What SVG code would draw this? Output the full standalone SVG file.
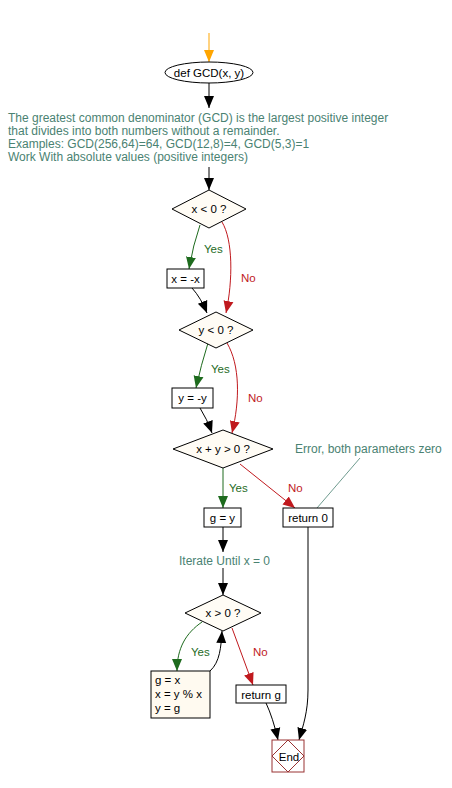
<svg xmlns="http://www.w3.org/2000/svg" width="452" height="788" viewBox="0 0 452 788">
<style>
text{font-family:"Liberation Sans",Arial,sans-serif;font-size:11.5px;fill:#000}
.c{text-anchor:middle}
.note{fill:#4A8272;font-size:12px}
.yes{fill:#1E6B1E}
.no{fill:#C0191E}
.box{fill:#fff;stroke:#000;stroke-width:1}
.dia{fill:#FFFCF5;stroke:#000;stroke-width:1}
.k{fill:none;stroke:#000;stroke-width:1}
.g{fill:none;stroke:#1E6B1E;stroke-width:1}
.r{fill:none;stroke:#C0191E;stroke-width:1}
.o{fill:none;stroke:#FFA500;stroke-width:1}
</style>
<defs>
<marker id="ak" markerUnits="userSpaceOnUse" markerWidth="12" markerHeight="12" viewBox="0 0 12 10" refX="12" refY="5" orient="auto"><path d="M0,0 L12,5 L0,10 z" fill="#000"/></marker>
<marker id="ag" markerUnits="userSpaceOnUse" markerWidth="12" markerHeight="12" viewBox="0 0 12 10" refX="12" refY="5" orient="auto"><path d="M0,0 L12,5 L0,10 z" fill="#1E6B1E"/></marker>
<marker id="ar" markerUnits="userSpaceOnUse" markerWidth="12" markerHeight="12" viewBox="0 0 12 10" refX="12" refY="5" orient="auto"><path d="M0,0 L12,5 L0,10 z" fill="#C0191E"/></marker>
<marker id="ao" markerUnits="userSpaceOnUse" markerWidth="12" markerHeight="12" viewBox="0 0 12 10" refX="12" refY="5" orient="auto"><path d="M0,0 L12,5 L0,10 z" fill="#FFA500"/></marker>
</defs>
<rect width="452" height="788" fill="#fff"/>
<g id="connectors">
<path class="o" d="M209,33 L209,62" marker-end="url(#ao)"/>
<path class="k" d="M209,83 L209,108" marker-end="url(#ak)"/>
<path class="k" d="M209,167 L209,190" marker-end="url(#ak)"/>
<path class="g" d="M200,225 Q193,245 189,269" marker-end="url(#ag)"/>
<path class="r" d="M222,222 C233,240 233,280 226,313" marker-end="url(#ar)"/>
<path class="k" d="M192,288 Q201,298 207,313" marker-end="url(#ak)"/>
<path class="g" d="M208,343 Q201,365 196,388" marker-end="url(#ag)"/>
<path class="r" d="M227,343 C240,365 240,400 232,433" marker-end="url(#ar)"/>
<path class="k" d="M200,408 Q207,419 212,433" marker-end="url(#ak)"/>
<path class="g" d="M223,468 L223,508" marker-end="url(#ag)"/>
<path class="r" d="M240,464 L295,508" marker-end="url(#ar)"/>
<path d="M360,458 L317,508" fill="none" stroke="#4A8272" stroke-width="0.8"/>
<path class="k" d="M223,527 L223,552" marker-end="url(#ak)"/>
<path class="k" d="M223,568 L223,595" marker-end="url(#ak)"/>
<path class="g" d="M202,622 C186,633 177,648 177,671" marker-end="url(#ag)"/>
<path class="k" d="M210,671 C220,662 221,647 222,631" marker-end="url(#ak)"/>
<path class="r" d="M232,628 L253,685" marker-end="url(#ar)"/>
<path class="k" d="M266,703 Q273,718 278,740" marker-end="url(#ak)"/>
<path class="k" d="M308,527 L308,690 C308,712 303,726 299,740" marker-end="url(#ak)"/>
</g>
<g id="labels">
<text class="yes" x="204" y="253">Yes</text>
<text class="no" x="241" y="282">No</text>
<text class="yes" x="211" y="373">Yes</text>
<text class="no" x="248" y="402">No</text>
<text class="yes" x="229" y="492">Yes</text>
<text class="no" x="288" y="492">No</text>
<text class="yes" x="191" y="656">Yes</text>
<text class="no" x="253" y="656">No</text>
</g>
<g id="start">
<ellipse cx="209" cy="72.5" rx="44" ry="10.5" fill="#fff" stroke="#000"/>
<text class="c" x="209" y="76.5">def GCD(x, y)</text>
</g>
<g id="note1">
<text class="note" x="8" y="122">The greatest common denominator (GCD) is the largest positive integer</text>
<text class="note" x="8" y="135">that divides into both numbers without a remainder.</text>
<text class="note" x="8" y="148">Examples: GCD(256,64)=64, GCD(12,8)=4, GCD(5,3)=1</text>
<text class="note" x="8" y="161">Work With absolute values (positive integers)</text>
</g>
<g id="d1">
<polygon class="dia" points="209,190 246,209 209,228 172,209"/>
<text class="c" x="209" y="213">x &lt; 0 ?</text>
</g>
<g id="b1">
<rect class="box" x="167" y="269" width="37" height="19"/>
<text class="c" x="185.5" y="283">x = -x</text>
</g>
<g id="d2">
<polygon class="dia" points="216,312 253,330 216,348 179,330"/>
<text class="c" x="216" y="334">y &lt; 0 ?</text>
</g>
<g id="b2">
<rect class="box" x="172" y="388" width="41" height="20"/>
<text class="c" x="192.5" y="402">y = -y</text>
</g>
<g id="d3">
<polygon class="dia" points="223,430 273,449 223,468 173,449"/>
<text class="c" x="223" y="453">x + y &gt; 0 ?</text>
</g>
<g id="b3">
<rect class="box" x="204" y="508" width="37" height="19"/>
<text class="c" x="222.5" y="522">g = y</text>
</g>
<g id="b4">
<rect class="box" x="283" y="508" width="50" height="19"/>
<text class="c" x="308" y="522">return 0</text>
</g>
<g id="note2">
<text class="note" x="295" y="453">Error, both parameters zero</text>
</g>
<g id="note3">
<text class="note" x="179" y="565">Iterate Until x = 0</text>
</g>
<g id="d4">
<polygon class="dia" points="223,595 261,613 223,631 185,613"/>
<text class="c" x="223" y="617">x &gt; 0 ?</text>
</g>
<g id="b5">
<rect x="151" y="671" width="59" height="47" fill="#FFFAF0" stroke="#000"/>
<text x="155" y="684">g = x</text>
<text x="155" y="698">x = y % x</text>
<text x="155" y="712">y = g</text>
</g>
<g id="b6">
<rect class="box" x="236" y="685" width="50" height="18"/>
<text class="c" x="261" y="698.5">return g</text>
</g>
<g id="end">
<rect x="272" y="740" width="32" height="32" fill="#fff" stroke="#993333"/>
<polygon points="288,740 304,756 288,772 272,756" fill="none" stroke="#993333"/>
<text class="c" x="289" y="760.5">End</text>
</g>
</svg>
